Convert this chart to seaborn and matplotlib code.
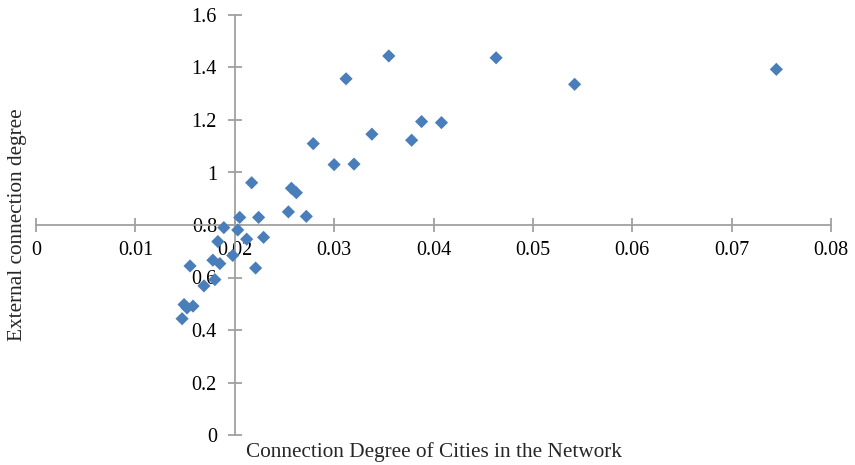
import matplotlib
matplotlib.use("Agg")
import matplotlib.pyplot as plt
import seaborn as sns
import pandas as pd

connection_degree = [0.0147, 0.0149, 0.0152, 0.0158, 0.0155, 0.0169, 0.0180, 0.0178,
                     0.0185, 0.0183, 0.0189, 0.0198, 0.0203, 0.0205, 0.0212, 0.0217,
                     0.0221, 0.0224, 0.0229, 0.0254, 0.0257, 0.0262, 0.0272, 0.0279,
                     0.0300, 0.0320, 0.0312, 0.0338, 0.0355, 0.0378, 0.0388, 0.0408,
                     0.0463, 0.0542, 0.0745]
external_degree = [0.443, 0.497, 0.484, 0.491, 0.644, 0.568, 0.592, 0.666,
                   0.653, 0.737, 0.790, 0.684, 0.781, 0.829, 0.746, 0.961,
                   0.636, 0.829, 0.753, 0.850, 0.940, 0.923, 0.833, 1.110,
                   1.030, 1.032, 1.357, 1.146, 1.444, 1.123, 1.194, 1.190,
                   1.437, 1.336, 1.393]
x_ticks = [0, 0.01, 0.02, 0.03, 0.04, 0.05, 0.06, 0.07, 0.08]
x_tick_labels = ["0", "0.01", "0.02", "0.03", "0.04", "0.05", "0.06", "0.07", "0.08"]
y_ticks = [0, 0.2, 0.4, 0.6, 0.8, 1.0, 1.2, 1.4, 1.6]
y_tick_labels = ["0", "0.2", "0.4", "0.6", "0.8", "1", "1.2", "1.4", "1.6"]

df = pd.DataFrame({"x": connection_degree, "y": external_degree})

sns.set_style("white")
plt.rcParams["font.family"] = ["Liberation Serif", "DejaVu Serif"]

fig = plt.figure(figsize=(8.55, 4.65), dpi=100)
ax = fig.add_axes([36 / 855, 30 / 465, (831 - 36) / 855, (435 - 15) / 465])

sns.scatterplot(data=df, x="x", y="y", marker="D", s=45, color="#4A7EBB",
                edgecolor="none", ax=ax, zorder=3, clip_on=False)

ax.set_xlim(0, 0.08)
ax.set_ylim(0, 1.6)
ax.set_xticks(x_ticks)
ax.set_xticklabels(x_tick_labels)
ax.set_yticks(y_ticks)
ax.set_yticklabels(y_tick_labels)

axis_color = "#A0A0A0"
for side in ["top", "right"]:
    ax.spines[side].set_visible(False)
ax.spines["left"].set_position(("data", 0.02))
ax.spines["bottom"].set_position(("data", 0.8))
for side in ["left", "bottom"]:
    ax.spines[side].set_color(axis_color)
    ax.spines[side].set_linewidth(1.3)
    ax.spines[side].set_zorder(1)

ax.tick_params(axis="both", direction="inout", length=9.6, width=1.3,
               color=axis_color, labelsize=14.5, labelcolor="black",
               bottom=True, left=True)
ax.tick_params(axis="y", pad=8)
ax.tick_params(axis="x", pad=7)

ax.set_xlabel("")
ax.set_ylabel("")
fig.text((36 + 831) / 2 / 855, 1 - 452 / 465, "Connection Degree of Cities in the Network",
         ha="center", va="center", fontsize=15.3)
fig.text(18 / 855, 1 - 225 / 465, "External connection degree",
         ha="center", va="center", rotation=90, fontsize=15.3)

fig.savefig("out.png", dpi=100, facecolor="white")
